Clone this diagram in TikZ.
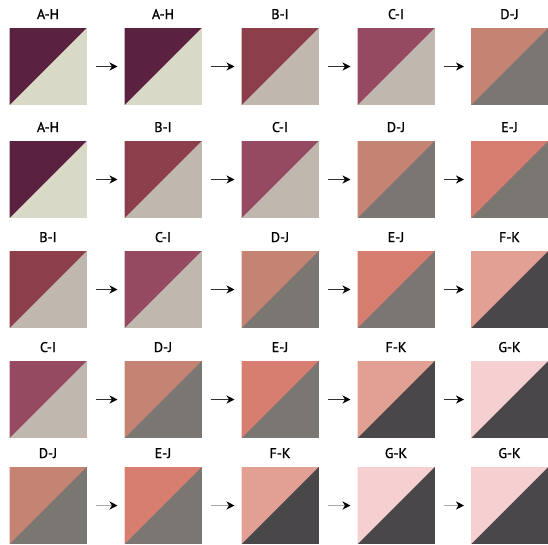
\documentclass[tikz,border=0pt]{standalone}
\usepackage{fontspec}
\setmainfont{PT Sans}[FakeBold=1.2]
\usetikzlibrary{arrows.meta,calc}
\definecolor{cA}{HTML}{5A2140}
\definecolor{cB}{HTML}{8C3F4B}
\definecolor{cC}{HTML}{964A62}
\definecolor{cD}{HTML}{C58473}
\definecolor{cE}{HTML}{D77E71}
\definecolor{cF}{HTML}{E2A094}
\definecolor{cG}{HTML}{F6D0D1}
\definecolor{cH}{HTML}{D8D9C7}
\definecolor{cI}{HTML}{C0B8AE}
\definecolor{cJ}{HTML}{7A7672}
\definecolor{cK}{HTML}{4A474B}
\definecolor{shaftgray}{HTML}{A8A8A8}
\definecolor{shaftdark}{HTML}{303030}
\tikzset{
  tilebox/.style={minimum width=77pt,minimum height=77pt,inner sep=0pt,outer sep=0pt},
  lab/.style={font=\fontsize{14}{14}\selectfont,inner sep=0pt,anchor=base},
  arr/.style={line width=1.3pt,-{Stealth[length=8pt,width=8pt,color=black,fill=black,inset=2.5pt]},shorten <=9pt,shorten >=7pt},
}
\newcommand\tile[6]{%
  \node[tilebox,fill=#5,path picture={\fill[#4] (path picture bounding box.south west) -- (path picture bounding box.north west) -- (path picture bounding box.north east) -- cycle;}] (#1) at (#2pt,-#3pt) {};
  \node[lab] (#1l) at ($(#1.north)+(0,9pt)$) {#6};
}
\begin{document}
\begin{tikzpicture}[x=1pt,y=1pt]
\useasboundingbox (0,0) rectangle (548,-544);
% row 1
\tile{a1}{48}{66.5}{cA}{cH}{A-H}
\tile{a2}{163}{66.5}{cA}{cH}{A-H}
\tile{a3}{280}{66.5}{cB}{cI}{B-I}
\tile{a4}{396}{66.5}{cC}{cI}{C-I}
\tile{a5}{509.5}{66.5}{cD}{cJ}{D-J}
% row 2
\tile{b1}{48}{179.5}{cA}{cH}{A-H}
\tile{b2}{163}{179.5}{cB}{cI}{B-I}
\tile{b3}{280}{179.5}{cC}{cI}{C-I}
\tile{b4}{396}{179.5}{cD}{cJ}{D-J}
\tile{b5}{509.5}{179.5}{cE}{cJ}{E-J}
% row 3
\tile{c1}{48}{289.5}{cB}{cI}{B-I}
\tile{c2}{163}{289.5}{cC}{cI}{C-I}
\tile{c3}{280}{289.5}{cD}{cJ}{D-J}
\tile{c4}{396}{289.5}{cE}{cJ}{E-J}
\tile{c5}{509.5}{289.5}{cF}{cK}{F-K}
% row 4
\tile{d1}{48}{399.5}{cC}{cI}{C-I}
\tile{d2}{163}{399.5}{cD}{cJ}{D-J}
\tile{d3}{280}{399.5}{cE}{cJ}{E-J}
\tile{d4}{396}{399.5}{cF}{cK}{F-K}
\tile{d5}{509.5}{399.5}{cG}{cK}{G-K}
% row 5
\tile{e1}{48}{505.5}{cD}{cJ}{D-J}
\tile{e2}{163}{505.5}{cE}{cJ}{E-J}
\tile{e3}{280}{505.5}{cF}{cK}{F-K}
\tile{e4}{396}{505.5}{cG}{cK}{G-K}
\tile{e5}{509.5}{505.5}{cG}{cK}{G-K}
% arrows
\foreach \r in {a,b,c,d}{
  \draw[arr,shaftdark] (\r1) -- (\r2);
  \draw[arr,shaftdark] (\r2) -- (\r3);
  \draw[arr,shaftdark] (\r3) -- (\r4);
  \draw[arr,shaftdark] (\r4) -- (\r5);
}
\draw[arr,shaftgray] (e1) -- (e2);
\draw[arr,shaftgray] (e2) -- (e3);
\draw[arr,shaftgray] (e3) -- (e4);
\draw[arr,shaftgray] (e4) -- (e5);
\end{tikzpicture}
\end{document}
